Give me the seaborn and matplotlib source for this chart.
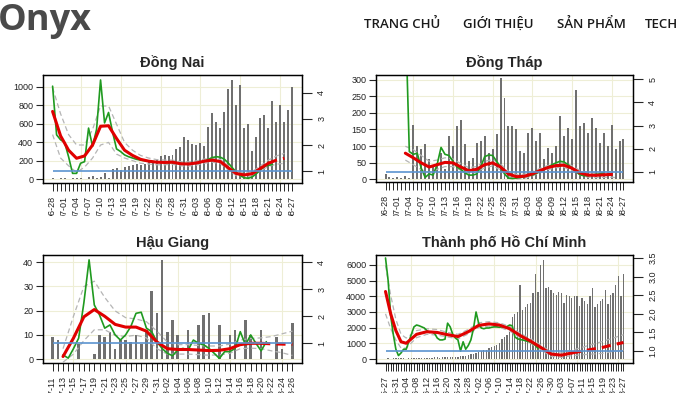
import numpy as np
import pandas as pd
import matplotlib
matplotlib.use("Agg")
import matplotlib.pyplot as plt
import seaborn as sns
from matplotlib.patches import Rectangle

sns.set_style("white")
plt.rcParams["font.family"] = ["Liberation Sans", "DejaVu Sans"]
plt.rcParams["axes.edgecolor"] = "black"
plt.rcParams["axes.linewidth"] = 0.9

W, H = 680, 393

BAR = "#707070"
GREEN = "#1f9a1f"
RED = "#e00000"
CI = "#b5b5b5"
BLUE = "#5b93cf"
GRID = "#eeeed6"

rt_ref = 1.0

# ---------------- Đồng Nai ----------------
dn_dates = ("2021-06-28", "2021-08-27")
dn_cases = [10, 5, 8, 15, 5, 10, 8, 12, 5, 25,
            30, 15, 20, 70, 10, 110, 120, 100, 130, 140,
            150, 160, 155, 165, 190, 200, 210, 250, 255, 250,
            265, 320, 350, 450, 420, 380, 370, 385, 360, 560,
            710, 620, 550, 730, 980, 1070, 800, 1020, 550, 600,
            300, 450, 660, 690, 550, 850, 620, 800, 620, 750,
            1000]
dn_rt_days = list(range(0, 56))
dn_rt = [4.26, 2.39, 2.2, 2.1, 1.55, 0.91, 0.91, 1.3, 1.36, 2.65,
         1.95, 2.6, 4.5, 2.85, 3.25, 2.5, 1.85, 1.75, 1.62, 1.55,
         1.5, 1.45, 1.42, 1.40, 1.38, 1.36, 1.35, 1.35, 1.33, 1.32,
         1.33, 1.30, 1.29, 1.28, 1.28, 1.29, 1.31, 1.34, 1.38, 1.45,
         1.52, 1.55, 1.53, 1.45, 1.3, 1.12, 0.95, 0.82, 0.74, 0.72,
         0.78, 0.9, 1.05, 1.18, 1.22, 1.25]
dn_sm_days = list(range(0, 59, 2))
dn_sm = [3.29, 2.35, 1.8, 1.49, 1.58, 2.0, 2.72, 2.74, 2.25, 1.8,
         1.6, 1.45, 1.38, 1.34, 1.33, 1.34, 1.28, 1.27, 1.31, 1.38,
         1.42, 1.36, 1.12, 0.9, 0.85, 0.9, 1.1, 1.3, 1.42, 1.49]
dn_hi = [4.2, 3.2, 2.4, 2.0, 2.0, 2.6, 3.5, 3.5, 2.8, 2.1,
         1.8, 1.6, 1.5, 1.44, 1.42, 1.42, 1.36, 1.35, 1.39, 1.46,
         1.5, 1.44, 1.2, 0.98, 0.93, 0.98, 1.2, 1.42, 1.58, 1.68]
dn_lo = [2.4, 1.5, 1.2, 0.95, 1.15, 1.5, 2.0, 2.1, 1.65, 1.5,
         1.4, 1.3, 1.27, 1.24, 1.24, 1.26, 1.2, 1.19, 1.23, 1.3,
         1.34, 1.28, 1.04, 0.82, 0.77, 0.82, 1.0, 1.18, 1.26, 1.3]

# ---------------- Đồng Tháp ----------------
dt_dates = ("2021-06-28", "2021-08-27")
dt_cases = [15, 5, 3, 5, 2, 8, 4, 165, 100, 90,
            107, 60, 40, 50, 80, 30, 130, 100, 160, 180,
            105, 55, 65, 110, 115, 130, 80, 90, 135, 305,
            245, 160, 160, 150, 85, 80, 140, 155, 115, 140,
            60, 95, 80, 100, 190, 130, 155, 120, 270, 160,
            170, 140, 185, 155, 110, 140, 100, 165, 90, 115,
            120]
dt_rt_days = list(range(5, 56))
dt_rt = [8.0, 1.87, 1.75, 1.8, 1.15, 0.75, 0.9, 0.85, 1.3, 2.05,
         1.75, 1.7, 1.45, 1.2, 1.1, 0.95, 0.85, 0.85, 0.9, 1.2,
         1.65, 1.72, 1.7, 1.45, 1.2, 0.9, 0.72, 0.7, 0.72, 0.75,
         0.78, 0.82, 0.85, 0.92, 1.0, 1.1, 1.2, 1.3, 1.38, 1.45,
         1.42, 1.3, 1.15, 1.0, 0.87, 0.82, 0.82, 0.85, 0.88, 0.9,
         0.95]
dt_sm_days = list(range(5, 58, 2)) + [58]
dt_sm = [1.8, 1.6, 1.38, 1.2, 1.3, 1.4, 1.38, 1.2, 1.04, 1.1,
         1.3, 1.38, 1.2, 0.9, 0.78, 0.8, 0.9, 1.05, 1.18, 1.26,
         1.28, 1.15, 0.95, 0.85, 0.84, 0.86, 0.88, 0.87]
dt_hi = [2.1, 1.95, 1.7, 1.45, 1.5, 1.6, 1.55, 1.35, 1.17, 1.22,
         1.45, 1.52, 1.33, 1.01, 0.88, 0.89, 0.99, 1.14, 1.27, 1.35,
         1.38, 1.26, 1.05, 0.95, 0.94, 0.97, 1.0, 1.0]
dt_lo = [1.5, 1.3, 1.08, 0.96, 1.1, 1.22, 1.22, 1.06, 0.92, 0.99,
         1.16, 1.25, 1.08, 0.8, 0.68, 0.71, 0.81, 0.96, 1.09, 1.17,
         1.19, 1.05, 0.86, 0.76, 0.74, 0.75, 0.76, 0.74]

# ---------------- Hậu Giang ----------------
hg_dates = ("2021-07-11", "2021-08-26")
hg_cases = [9, 8, 0, 0, 0, 6, 0, 0, 2, 10,
            9, 11, 4, 8, 8, 7, 10, 6, 12, 28,
            19, 41, 11, 16, 10, 0, 12, 0, 14, 18,
            19, 0, 14, 0, 10, 12, 0, 16, 10, 0,
            12, 0, 0, 9, 4, 0, 15]
hg_rt_days = list(range(2, 42))
hg_rt = [0.57, 0.45, 0.8, 1.19, 2.5, 4.09, 2.42, 2.05, 1.56, 1.68,
         1.31, 1.12, 1.31, 1.62, 2.11, 2.15, 1.56, 1.43, 1.06, 0.81,
         0.63, 0.54, 0.75, 0.81, 0.75, 1.12, 1.0, 0.94, 0.81, 0.63,
         0.44, 0.69, 0.69, 0.81, 1.43, 0.94, 1.31, 1.0, 0.72, 1.06]
hg_sm_days = list(range(2, 47, 2))
hg_sm = [0.51, 1.19, 1.98, 2.25, 2.0, 1.7, 1.6, 1.6, 1.45, 1.05,
         0.8, 0.77, 0.77, 0.75, 0.73, 0.74, 0.8, 0.95, 1.0, 1.0,
         0.98, 0.97, 0.96]
hg_hi = [0.8, 2.0, 3.1, 3.3, 2.7, 2.2, 1.95, 1.9, 1.8, 1.45,
         1.05, 0.95, 0.95, 0.92, 0.9, 0.9, 0.97, 1.12, 1.18, 1.2,
         1.25, 1.35, 1.45]
hg_lo = [0.3, 0.6, 1.1, 1.5, 1.5, 1.3, 1.25, 1.3, 1.2, 0.8,
         0.6, 0.6, 0.6, 0.58, 0.56, 0.57, 0.63, 0.8, 0.82, 0.8,
         0.72, 0.65, 0.55]

# ---------------- Thành phố Hồ Chí Minh ----------------
hcm_dates = ("2021-05-27", "2021-08-27")
hcm_cases = [30, 40, 20, 50, 40, 60, 50, 40, 30, 40,
             50, 60, 60, 70, 60, 70, 80, 90, 80, 100,
             110, 90, 100, 120, 130, 140, 100, 150, 150, 170,
             180, 220, 260, 300, 330, 380, 450, 500, 550, 600,
             700, 750, 820, 900, 1000, 1300, 1400, 1500, 1750, 2700,
             2900, 3000, 4700, 3100, 3300, 3500, 3600, 4200, 5400, 4300,
             6000, 6300, 4500, 4600, 4400, 4200, 4100, 4300, 4200, 3600,
             4100, 4000, 3900, 4000, 4000, 3400, 3900, 3700, 3500, 4000,
             4500, 3300, 3500, 3700, 3800, 4400, 3500, 4100, 4200, 4700,
             5300, 4000, 5400]
hcm_rt_days = list(range(0, 60))
hcm_rt = [3.5, 2.9, 1.95, 1.45, 1.05, 0.88, 0.95, 1.05, 1.05, 1.25,
          1.45, 1.65, 1.7, 1.68, 1.65, 1.62, 1.55, 1.5, 1.52, 1.47,
          1.35, 1.3, 1.3, 1.32, 1.75, 1.65, 1.45, 1.35, 1.3, 1.0,
          1.25, 1.05, 1.15, 1.3, 1.6, 2.05, 1.75, 1.62, 1.6, 1.62,
          1.62, 1.64, 1.65, 1.65, 1.64, 1.65, 1.64, 1.66, 1.7, 1.68,
          1.38, 1.33, 1.31, 1.3, 1.28, 1.26, 1.24, 1.2, 1.15, 1.07]
hcm_sm_days = [0, 2, 4, 6, 8] + list(range(12, 93, 4))
hcm_sm = [2.6, 2.0, 1.55, 1.25, 1.21, 1.45, 1.52, 1.5, 1.44, 1.39,
          1.52, 1.69, 1.73, 1.7, 1.6, 1.42, 1.27, 1.1, 0.92, 0.89,
          0.95, 1.0, 1.05, 1.1, 1.17, 1.23]
hcm_hi = [3.3, 2.5, 1.85, 1.45, 1.35, 1.55, 1.6, 1.58, 1.5, 1.45,
          1.58, 1.76, 1.79, 1.76, 1.66, 1.48, 1.33, 1.16, 0.98, 0.95,
          1.02, 1.1, 1.18, 1.26, 1.35, 1.44]
hcm_lo = [2.0, 1.6, 1.3, 1.08, 1.08, 1.36, 1.45, 1.43, 1.38, 1.33,
          1.46, 1.63, 1.67, 1.64, 1.54, 1.36, 1.21, 1.04, 0.86, 0.83,
          0.88, 0.9, 0.92, 0.94, 0.99, 1.02]

fig = plt.figure(figsize=(W / 100, H / 100), dpi=100)


def px_rect(x0, y0, x1, y1):
    return [x0 / W, 1 - y1 / H, (x1 - x0) / W, (y1 - y0) / H]


def panel(rect, title, dates, cases, rt_days, rt, sm_days, sm, hi, lo, solid_until,
          every, left_ticks, left_lim, right_ticks, right_labels, right_lim, grid_days):
    ax = fig.add_axes(rect)
    dr = pd.date_range(*dates)
    days = np.arange(len(dr))
    n = len(dr) - 1

    for g in left_ticks:
        ax.axhline(g, color=GRID, lw=0.8, zorder=0)
    for g in grid_days:
        ax.axvline(g, color=GRID, lw=0.8, zorder=0)

    sns.barplot(x=days, y=cases, native_scale=True, orient="x", color=BAR,
                width=0.5, saturation=1, errorbar=None, linewidth=0, ax=ax, zorder=2)

    ax.set_ylim(*left_lim)
    ax.set_yticks(left_ticks)
    ax.set_yticklabels([str(t) for t in left_ticks])
    ax.set_xticks(days)
    ax.set_xticklabels([d.strftime("%m-%d") if i % every == 0 else ""
                        for i, d in enumerate(dr)], rotation=90)
    ax.tick_params(axis="x", bottom=True, length=6, width=0.7, pad=3.5,
                   labelsize=6.5, labelcolor="#222222")
    ax.tick_params(axis="y", left=True, length=5, width=0.8, pad=2,
                   labelsize=6.5, labelcolor="#222222")
    ax.set_xlabel("")
    ax.set_ylabel("")
    ax.set_title(title, fontsize=10.5, fontweight="bold", pad=6)

    ax2 = ax.twinx()
    sns.lineplot(x=sm_days, y=hi, ax=ax2, color=CI, linewidth=0.9, linestyle=(0, (4, 2.5)))
    sns.lineplot(x=sm_days, y=lo, ax=ax2, color=CI, linewidth=0.9, linestyle=(0, (4, 2.5)))
    ax2.hlines(rt_ref, days[0], days[-1], color=BLUE, linewidth=1.2, zorder=3)
    sns.lineplot(x=rt_days, y=rt, ax=ax2, color=GREEN, linewidth=1.2)
    solid = [(d, v) for d, v in zip(sm_days, sm) if d <= solid_until]
    dashed = [(d, v) for d, v in zip(sm_days, sm) if d >= solid_until]
    sns.lineplot(x=[d for d, _ in solid], y=[v for _, v in solid], ax=ax2,
                 color=RED, linewidth=2.2)
    if len(dashed) > 1:
        sns.lineplot(x=[d for d, _ in dashed], y=[v for _, v in dashed], ax=ax2,
                     color=RED, linewidth=2.2, linestyle=(0, (3, 2)))
    ax2.set_ylim(*right_lim)
    ax2.set_yticks(right_ticks)
    ax2.set_yticklabels(right_labels, rotation=90, va="center")
    ax2.tick_params(axis="y", right=True, length=7, width=0.8, pad=4,
                    labelsize=6.5, labelcolor="#222222")
    ax2.set_ylabel("")
    ax.set_xlim(-0.04 * n, 1.04 * n)
    for a in (ax, ax2):
        for s in a.spines.values():
            s.set_color("black")
            s.set_linewidth(0.9)
    return ax


panel(px_rect(43, 75, 302, 183), "Đồng Nai", dn_dates, dn_cases, dn_rt_days, dn_rt,
      dn_sm_days, dn_sm, dn_hi, dn_lo, 54, 3,
      [0, 200, 400, 600, 800, 1000], (-43, 1127),
      [1, 2, 3, 4], ["1", "2", "3", "4"], (0.54, 4.69), [7, 17, 27, 37, 47, 57])

panel(px_rect(376, 75, 633, 182), "Đồng Tháp", dt_dates, dt_cases, dt_rt_days, dt_rt,
      dt_sm_days, dt_sm, dt_hi, dt_lo, 55, 3,
      [0, 50, 100, 150, 200, 250, 300], (-9, 315),
      [1, 2, 3, 4, 5], ["1", "2", "3", "4", "5"], (0.55, 5.19), [7, 17, 27, 37, 47, 57])

panel(px_rect(43, 255, 302, 363), "Hậu Giang", hg_dates, hg_cases, hg_rt_days, hg_rt,
      hg_sm_days, hg_sm, hg_hi, hg_lo, 40, 2,
      [0, 10, 20, 30, 40], (-1.65, 43),
      [1, 2, 3, 4], ["1", "2", "3", "4"], (0.27, 4.27), [4, 14, 24, 34, 44])

panel(px_rect(376, 255, 633, 363), "Thành phố Hồ Chí Minh", hcm_dates, hcm_cases,
      hcm_rt_days, hcm_rt, hcm_sm_days, hcm_sm, hcm_hi, hcm_lo, 72, 4,
      [0, 1000, 2000, 3000, 4000, 5000, 6000], (-255, 6637),
      [1.0, 1.5, 2.0, 2.5, 3.0, 3.5], ["1.0", "1.5", "2.0", "2.5", "3.0", "3.5"],
      (0.68, 3.58), [10, 26, 42, 58, 74, 90])

# the top row's date labels are cut off in the page screenshot
fig.add_artist(Rectangle((0, 1 - 232 / H), 1, 16 / H, transform=fig.transFigure,
                         facecolor="white", edgecolor="none", zorder=10))

# page header
fig.text(-2 / W, 1 - 30 / H, "Onyx", fontsize=26, fontweight="bold", color="#4a4a4a",
         family=["Open Sans", "DejaVu Sans"], va="baseline", ha="left")
for label, x in [("TRANG CHỦ", 364), ("GIỚI THIỆU", 463), ("SẢN PHẨM", 557), ("TECH", 645)]:
    fig.text(x / W, 1 - 28 / H, label, fontsize=9.5, color="#1a1a1a", fontweight="semibold",
             family=["Open Sans", "DejaVu Sans"], va="baseline", ha="left")

fig.savefig("out.png", dpi=100)
